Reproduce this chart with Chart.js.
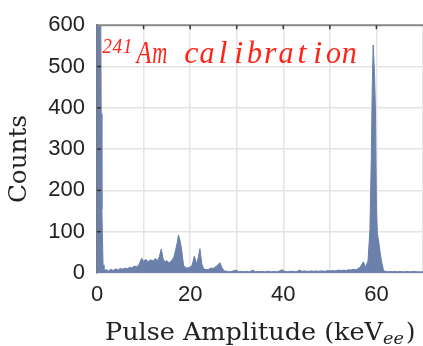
<!DOCTYPE html>
<html>
<head>
<meta charset="utf-8">
<script src="https://cdn.jsdelivr.net/npm/chart.js@4"></script>
<style>
html,body{margin:0;padding:0;background:#fff;overflow:hidden;width:423px;height:346px;}
canvas{display:block;}
</style>
</head>
<body>
<canvas id="c" width="432" height="346"></canvas>
<script>
// Pulse amplitude (keV_ee) sample positions and counts
const energyKeV = [0, 0.4, 0.8, 0.9, 1.05, 1.15, 1.3, 1.5, 2, 2.5, 3, 3.5, 4, 4.5, 5, 5.5, 6, 6.5, 7, 7.5, 8, 8.5, 9, 9.6, 10, 10.5, 11, 11.5, 12, 12.5, 13, 13.4, 13.8, 14.2, 14.6, 15, 15.5, 16, 16.5, 16.8, 17.2, 17.5, 17.8, 18.1, 18.6, 19.2, 19.8, 20.4, 20.9, 21.4, 21.8, 22.1, 22.5, 22.9, 23.5, 24, 24.5, 25, 25.7, 26.4, 26.8, 27.3, 28, 28.5, 29, 29.8, 30.5, 31, 31.5, 32, 32.5, 33, 33.4, 34, 34.5, 35, 35.5, 36, 36.5, 37, 37.5, 38, 38.5, 39, 39.7, 40.3, 41, 41.5, 42, 42.5, 43, 43.5, 44, 44.5, 45, 45.5, 46, 46.5, 47, 47.5, 48, 48.5, 49, 49.5, 50, 50.5, 51, 51.5, 52, 52.5, 53, 53.5, 54, 54.5, 55, 55.5, 56, 56.5, 57.2, 57.7, 58.2, 58.6, 58.9, 59.1, 59.3, 59.6, 59.8, 60.0, 60.2, 60.5, 60.8, 61.1, 61.5, 61.8, 62.5, 63, 63.5, 64, 64.5, 65, 65.5, 66, 66.5, 67, 67.5, 68, 68.5, 69, 69.5, 70];
const counts = [650, 650, 650, 386, 154, 98, 20, 6, 8, 5, 9, 6, 10, 7, 11, 9, 12, 10, 14, 12, 17, 15, 20, 36, 28, 33, 27, 32, 29, 35, 30, 40, 58, 34, 26, 30, 24, 30, 38, 52, 72, 92, 80, 62, 18, 12, 13, 18, 41, 22, 40, 59, 22, 10, 8, 9, 12, 11, 17, 25, 14, 5, 4, 3, 4, 7, 3, 4, 3, 4, 3, 4, 7, 3, 4, 3, 4, 3, 4, 4, 3, 4, 3, 4, 8, 4, 3, 4, 4, 3, 4, 7, 4, 5, 4, 4, 5, 4, 5, 4, 5, 5, 4, 6, 5, 6, 5, 6, 7, 6, 7, 6, 8, 7, 9, 8, 10, 14, 27, 14, 30, 105, 280, 450, 552, 480, 390, 160, 95, 75, 50, 28, 8, 4, 3, 4, 3, 4, 3, 4, 3, 3, 4, 3, 3, 4, 3, 3, 3, 3];
const xTickValues = [0, 20, 40, 60];
const yTickValues = [0, 100, 200, 300, 400, 500, 600];
const yLabel = 'Counts';
const xLabelMain = 'Pulse Amplitude (keV';
const xLabelSub = 'ee';
const annotationSup = '241';
const annotationText = 'Am calibration';

const HIST = '#6b80ab';

function drawFit(ctx, text, x, y, width) {
  const w = ctx.measureText(text).width;
  ctx.save();
  ctx.translate(x, y);
  ctx.scale(width / w, 1);
  ctx.fillText(text, 0, 0);
  ctx.restore();
}

// draws text on a fixed character pitch (monospaced look)
function drawMono(ctx, text, x, y, pitch) {
  for (let i = 0; i < text.length; i++) {
    const ch = text[i];
    if (ch === ' ') continue;
    const w = ctx.measureText(ch).width;
    const s = Math.min(1, (pitch * 0.95) / w);
    ctx.save();
    ctx.translate(x + pitch * i + pitch / 2, y);
    ctx.scale(s, 1);
    ctx.fillText(ch, -w / 2, 0);
    ctx.restore();
  }
}

const decor = {
  id: 'decor',
  afterDatasetsDraw(chart) {
    const ctx = chart.ctx;
    const a = chart.chartArea;
    const xs = chart.scales.x, ys = chart.scales.y;
    ctx.save();
    // top frame line
    ctx.strokeStyle = '#8a8a8a';
    ctx.lineWidth = 2;
    ctx.beginPath();
    ctx.moveTo(a.left, a.top);
    ctx.lineTo(a.right, a.top);
    ctx.stroke();
    // inward tick marks
    ctx.strokeStyle = '#333';
    ctx.lineWidth = 1.5;
    for (let v = 10; v < 70; v += 10) {
      const px = xs.getPixelForValue(v);
      ctx.beginPath();
      ctx.moveTo(px, a.top);
      ctx.lineTo(px, a.top + 4);
      ctx.stroke();
    }
    for (let v = 100; v < 600; v += 100) {
      const py = ys.getPixelForValue(v);
      ctx.beginPath();
      ctx.moveTo(a.left, py);
      ctx.lineTo(a.left + 4, py);
      ctx.stroke();
    }
    // annotation
    ctx.fillStyle = '#ff2418';
    ctx.textBaseline = 'alphabetic';
    ctx.textAlign = 'left';
    ctx.font = 'italic 21px "Liberation Serif"';
    drawMono(ctx, annotationSup, 102, 53, 10.2);
    ctx.font = 'italic 32px "Liberation Serif"';
    drawMono(ctx, annotationText, 136, 63, 15.8);
    // axis titles
    ctx.fillStyle = '#222';
    ctx.font = '24px "DejaVu Serif"';
    drawFit(ctx, xLabelMain, 105, 340, 278);
    ctx.font = 'italic 16px "DejaVu Serif"';
    drawFit(ctx, xLabelSub, 383, 344, 21);
    ctx.font = '24px "DejaVu Serif"';
    ctx.fillText(')', 406, 340);
    ctx.save();
    ctx.translate(26, 203);
    ctx.rotate(-Math.PI / 2);
    ctx.font = '24px "DejaVu Serif"';
    drawFit(ctx, yLabel, 0, 0, 88);
    ctx.restore();
    ctx.restore();
  }
};

new Chart(document.getElementById('c'), {
  type: 'line',
  data: {
    datasets: [{
      data: energyKeV.map((e, i) => ({ x: e, y: counts[i] })),
      fill: 'origin',
      backgroundColor: HIST,
      borderColor: HIST,
      borderWidth: 1,
      pointRadius: 0,
      tension: 0
    }]
  },
  options: {
    responsive: false,
    animation: false,
    devicePixelRatio: 1,
    layout: { padding: { left: 0, right: 4, top: 24, bottom: 0 } },
    plugins: { legend: { display: false }, tooltip: { enabled: false } },
    scales: {
      x: {
        type: 'linear', min: 0, max: 70,
        afterFit: s => { s.height = 73; },
        ticks: {
          stepSize: 10, autoSkip: false, maxRotation: 0, padding: 9,
          color: '#222', font: { family: '"Liberation Sans"', size: 22 },
          callback: v => xTickValues.includes(v) ? String(v) : ''
        },
        grid: { color: '#e4e4e4', lineWidth: 1.5, drawTicks: false },
        border: { display: false }
      },
      y: {
        min: 0, max: 600,
        afterFit: s => { s.width = 97; },
        ticks: {
          stepSize: 100, padding: 12,
          color: '#222', font: { family: '"Liberation Sans"', size: 22 },
          callback: v => yTickValues.includes(v) ? String(v) : ''
        },
        grid: { color: '#e4e4e4', lineWidth: 1.5, drawTicks: false },
        border: { display: true, color: '#7a7a7a', width: 2 }
      }
    }
  },
  plugins: [decor]
});
</script>
</body>
</html>
